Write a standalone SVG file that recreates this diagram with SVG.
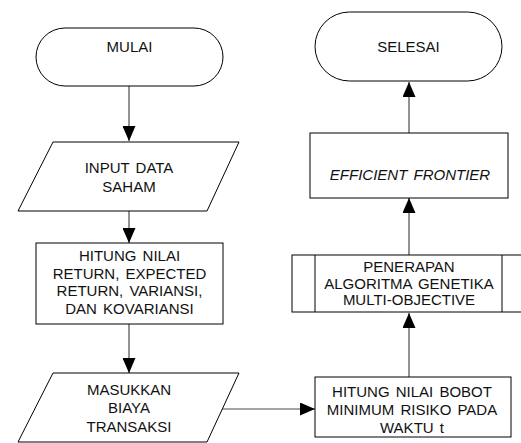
<svg xmlns="http://www.w3.org/2000/svg" width="521" height="443" viewBox="0 0 521 443">
  <defs>
    <marker id="arrow" viewBox="0 0 15 13" refX="15" refY="6.5" markerWidth="15" markerHeight="13" markerUnits="userSpaceOnUse" orient="auto">
      <path d="M0,0 L15,6.5 L0,13 Z" fill="#000"/>
    </marker>
    <style>
      .shape { fill: #fff; stroke: #000; stroke-width: 1; }
      .label { font-family: "Liberation Sans", Arial, sans-serif; font-size: 15px; fill: #111; text-anchor: middle; word-spacing: 2px; }
      .italic { font-style: italic; }
      .conn { fill: none; stroke: #4a4a4a; stroke-width: 1.2; }
    </style>
  </defs>
  <rect width="521" height="443" fill="#fff"/>

  <g id="connectors">
    <!-- left column, top to bottom -->
    <line class="conn" x1="129" y1="86" x2="129" y2="141" marker-end="url(#arrow)"/>
    <line class="conn" x1="129" y1="211" x2="129" y2="243" marker-end="url(#arrow)"/>
    <line class="conn" x1="129" y1="324" x2="129" y2="373" marker-end="url(#arrow)"/>
    <!-- across to the right column -->
    <line class="conn" x1="222" y1="409" x2="315" y2="409" marker-end="url(#arrow)"/>
    <!-- right column, bottom to top -->
    <line class="conn" x1="409" y1="377" x2="409" y2="313" marker-end="url(#arrow)"/>
    <line class="conn" x1="409" y1="255" x2="409" y2="198" marker-end="url(#arrow)"/>
    <line class="conn" x1="409" y1="133" x2="409" y2="82" marker-end="url(#arrow)"/>
  </g>

  <g id="mulai">
    <rect class="shape" x="36" y="28" width="187" height="58" rx="29" ry="29"/>
    <text class="label" x="129.5" y="52">MULAI</text>
  </g>

  <g id="input-data">
    <polygon class="shape" points="53,142 239,142 207,211 18,211"/>
    <text class="label" x="129" y="173">INPUT DATA</text>
    <text class="label" x="129" y="192">SAHAM</text>
  </g>

  <g id="hitung-return">
    <rect class="shape" x="36" y="243" width="187" height="81"/>
    <text class="label" x="129.5" y="261">HITUNG NILAI</text>
    <text class="label" x="129.5" y="278.5">RETURN, EXPECTED</text>
    <text class="label" x="129.5" y="296">RETURN, VARIANSI,</text>
    <text class="label" x="129.5" y="314">DAN KOVARIANSI</text>
  </g>

  <g id="biaya-transaksi">
    <polygon class="shape" points="53,373 239,373 207,442 18,442"/>
    <text class="label" x="129" y="395">MASUKKAN</text>
    <text class="label" x="129" y="413">BIAYA</text>
    <text class="label" x="129" y="432">TRANSAKSI</text>
  </g>

  <g id="bobot-minimum">
    <rect class="shape" x="315" y="377" width="196" height="60"/>
    <text class="label" x="412" y="397">HITUNG NILAI BOBOT</text>
    <text class="label" x="412" y="415">MINIMUM RISIKO PADA</text>
    <text class="label" x="412" y="433">WAKTU t</text>
  </g>

  <g id="algoritma-genetika">
    <rect class="shape" x="292" y="255" width="234" height="57"/>
    <line class="shape" x1="315" y1="255" x2="315" y2="312"/>
    <line class="shape" x1="502" y1="255" x2="502" y2="312"/>
    <text class="label" x="409" y="272">PENERAPAN</text>
    <text class="label" x="409" y="288.5">ALGORITMA GENETIKA</text>
    <text class="label" x="409" y="305">MULTI-OBJECTIVE</text>
  </g>

  <g id="efficient-frontier">
    <rect class="shape" x="310" y="133" width="198" height="65"/>
    <text class="label italic" x="410" y="180">EFFICIENT FRONTIER</text>
  </g>

  <g id="selesai">
    <rect class="shape" x="315" y="12" width="187" height="69" rx="34.5" ry="34.5"/>
    <text class="label" x="408.5" y="52">SELESAI</text>
  </g>
</svg>
